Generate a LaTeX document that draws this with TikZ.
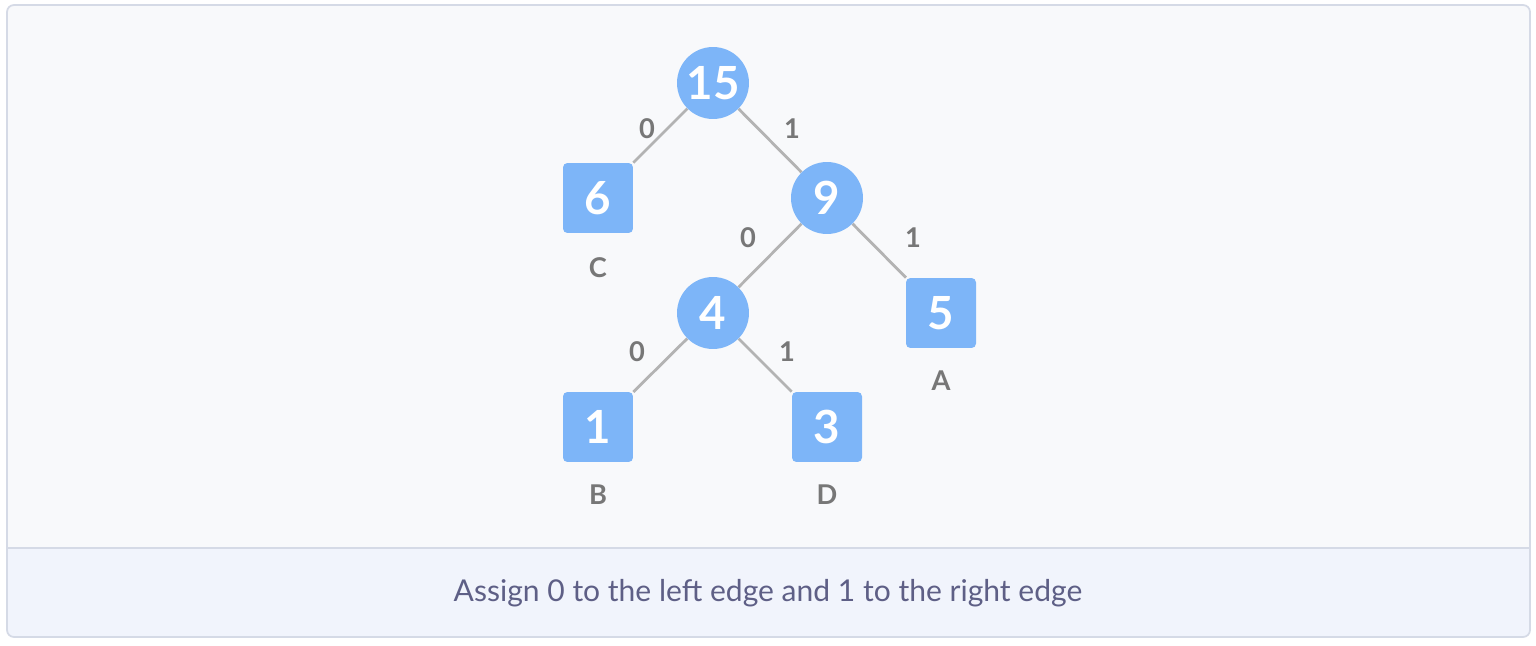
\documentclass[tikz,border=0pt]{standalone}
\usepackage{fontspec}
\setmainfont{Lato}
\usetikzlibrary{backgrounds}
\definecolor{nodeblue}{HTML}{7DB5F8}
\definecolor{edgegray}{HTML}{B3B3B3}
\definecolor{bitgray}{HTML}{777777}
\definecolor{panelbg}{HTML}{F8F9FB}
\definecolor{bandbg}{HTML}{F1F4FC}
\definecolor{framecol}{HTML}{D5DAE6}
\definecolor{captext}{HTML}{5E5F86}
\begin{document}
\begin{tikzpicture}[x=0.02cm, y=-0.02cm,
  inner/.style={circle, fill=nodeblue, minimum size=1.44cm, inner sep=0pt, text=white, font=\fontsize{26}{26}\selectfont\bfseries},
  leaf/.style={rectangle, rounded corners=2.5pt, fill=nodeblue, minimum size=1.4cm, inner sep=0pt, text=white, font=\fontsize{26}{26}\selectfont\bfseries},
  bit/.style={text=bitgray, font=\fontsize{15.5}{15.5}\selectfont\bfseries},
  edge/.style={draw=edgegray, line width=1.6pt}]
\useasboundingbox (0,0) rectangle (1536,646);
% panel and caption band
\begin{scope}[on background layer]
\fill[white] (0,0) rectangle (1536,646);
\fill[panelbg, rounded corners=4pt] (7,5) rectangle (1530,637);
\fill[bandbg, rounded corners=4pt] (7,548) rectangle (1530,637);
\fill[bandbg] (7,548) rectangle (1530,600);
\draw[framecol, line width=1pt] (7,548) -- (1530,548);
\draw[framecol, line width=1pt, rounded corners=4pt] (7,5) rectangle (1530,637);
\end{scope}
\node[text=captext, font=\fontsize{17.1}{17.1}\selectfont] (cap) at (768,593) {Assign 0 to the left edge and 1 to the right edge};

% tree
\node[inner] (n15) at (713,83) {15};
\node[leaf] (n6) at (598,198) {6};
\node[inner] (n9) at (827,198) {9};
\node[inner] (n4) at (713,313) {4};
\node[leaf] (n5) at (941,313) {5};
\node[leaf] (n1) at (598,427) {1};
\node[leaf] (n3) at (827,427) {3};

\begin{scope}[on background layer]
\draw[edge] (n15) -- (n6);
\draw[edge] (n15) -- (n9);
\draw[edge] (n9) -- (n4);
\draw[edge] (n9) -- (n5);
\draw[edge] (n4) -- (n1);
\draw[edge] (n4) -- (n3);
\end{scope}

% bits
\node[bit] (b1) at (647,129) {0};
\node[bit] (b2) at (792,129) {1};
\node[bit] (b3) at (748,238) {0};
\node[bit] (b4) at (913,238) {1};
\node[bit] (b5) at (637,352) {0};
\node[bit] (b6) at (787,352) {1};

% symbols
\node[bit] (lc) at (598,268) {C};
\node[bit] (la) at (941,381) {A};
\node[bit] (lb) at (598,495) {B};
\node[bit] (ld) at (827,495) {D};
\end{tikzpicture}
\end{document}
